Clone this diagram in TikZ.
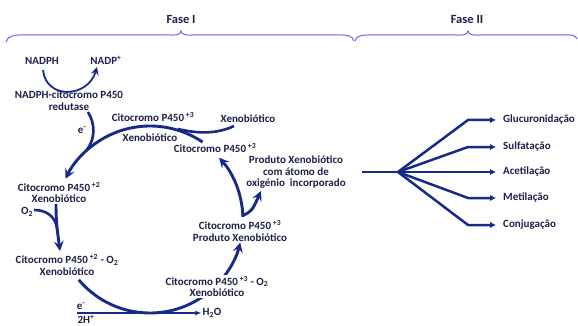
\documentclass[tikz,border=0pt]{standalone}
\usepackage{fontspec}
\setmainfont{Carlito}
\usetikzlibrary{arrows.meta,calc}
\definecolor{ink}{RGB}{28,32,72}
\definecolor{flow}{RGB}{22,42,135}
\definecolor{bracecol}{RGB}{100,100,245}
\begin{document}
\begin{tikzpicture}[x=1pt,y=1pt,
  lbl/.style={text=ink, font=\fontsize{11}{11.5}\selectfont\bfseries, align=center, inner sep=1pt},
  phase/.style={text=ink, font=\fontsize{12.5}{13}\selectfont\bfseries, inner sep=1pt},
  bigarrow/.style={draw=flow, line width=2.9pt, -{Stealth[length=10pt,width=10pt,inset=4pt]}},
  bigline/.style={draw=flow, line width=2.6pt},
  thinarrow/.style={draw=flow, line width=1.1pt, -{Latex[length=6pt,width=5pt]}},
  medarrow/.style={draw=flow, line width=1.8pt, -{Stealth[length=8pt,width=8pt,inset=3pt]}},
  fanarrow/.style={draw=flow, line width=2.5pt, -{Latex[length=6pt,width=6.5pt]}, shorten >=6pt},
  bracepath/.style={draw=bracecol, line width=1pt}
]
\useasboundingbox (0,0) rectangle (578,-326);

% phases
\node[phase] (faseI) at (181,-19) {Fase I};
\node[phase] (faseII) at (467,-19) {Fase II};
\draw[bracepath] (6,-42) to[out=75,in=180] (20,-35) -- (170,-35) to[out=0,in=260] (181,-31)
  to[out=280,in=180] (192,-35) -- (342,-35) to[out=0,in=105] (354,-41);
\draw[bracepath] (355,-41) to[out=75,in=180] (367,-35) -- (456,-35) to[out=0,in=260] (468,-31)
  to[out=280,in=180] (480,-35) -- (565,-35) to[out=0,in=110] (577,-39);

% cycle centre
\coordinate (k) at (150,-220);

% NADPH
\node[lbl] (nadph) at (42,-61) {NADPH};
\node[lbl] (nadp) at (106,-60) {NADP\textsuperscript{+}};
\coordinate (n1) at (43,-70);
\coordinate (n2) at (97,-67);
\draw[medarrow] (n1) .. controls (46,-100) and (88,-98) .. (n2);
\node[lbl] (red) at (69,-100.5) {NADPH-citocromo P450\\redutase};

% upper-left arc
\draw[bigarrow] ($(k)+(56:94)$) arc[start angle=56,end angle=154,radius=94];
% e- feed
\coordinate (e1s) at (88,-112);
\coordinate (e1e) at (86,-151);
\draw[bigline] (e1s) .. controls (96,-125) and (95,-140) .. (e1e);
\node[lbl] (e1) at (82,-130) {e\textsuperscript{-}};
% xenobiotic feed
\coordinate (xs) at (234,-126);
\coordinate (xe) at (178,-129);
\draw[bigline] (xs) .. controls (215,-135) and (195,-133) .. (xe);

\node[lbl] (c3a) at (153,-117) {Citocromo P450\,\textsuperscript{+3}};
\node[lbl] (xa) at (150,-138) {Xenobiótico};
\node[lbl] (xb) at (248,-118.5) {Xenobiótico};
\node[lbl] (c3b) at (215,-148) {Citocromo P450\,\textsuperscript{+3}};

% left side
\node[lbl] (c2) at (59,-192.5) {Citocromo P450\,\textsuperscript{+2}\\Xenobiótico};
\node[lbl] (o2) at (27,-212) {O\textsubscript{2}};
\coordinate (d1) at (56,-204);
\coordinate (d2) at (60,-251);
\draw[bigarrow] (d1) .. controls (56,-225) and (58,-235) .. (d2);
\coordinate (o2e) at (57,-228);
\draw[bigline] (34,-210) .. controls (46,-210) and (55,-216) .. (o2e);
\node[lbl] (c2o) at (67,-265) {Citocromo P450\,\textsuperscript{+2} - O\textsubscript{2}\\Xenobiótico};

% bottom arc
\draw[bigarrow] ($(k)+(220:93)$) arc[start angle=220,end angle=346,radius=93];
\node[lbl, fill=white] (c3o) at (217,-286.5) {Citocromo P450\,\textsuperscript{+3} - O\textsubscript{2}\\Xenobiótico};

% e- / 2H+ line
\node[lbl] (e2) at (81,-306) {e\textsuperscript{-}};
\node[lbl] (h) at (86,-319.5) {2H\textsuperscript{+}};
\node[lbl] (h2o) at (212,-313) {H\textsubscript{2}O};
\coordinate (ls) at (77,-313);
\draw[thinarrow] (ls) -- (h2o.west);

% right side of cycle
\node[lbl] (c3p) at (240,-231) {Citocromo P450\,\textsuperscript{+3}\\Produto Xenobiótico};
\draw[bigarrow] ($(k)+(2:93)$) arc[start angle=2,end angle=42,radius=93];
\coordinate (v) at (242,-216);
\coordinate (vp) at (261,-191);
\draw[bigarrow] (v) .. controls (252,-211) .. (vp);
\node[lbl] (prod) at (296,-172.5) {Produto Xenobiótico\\com átomo de\\oxigénio\ \ incorporado};

% Phase II fan
\coordinate (fin) at (362,-172);
\coordinate (fan) at (398,-172);
\draw[bigline] (fin) -- (fan);
\node[lbl, anchor=west] (glu) at (502,-120) {Glucuronidação};
\node[lbl, anchor=west] (sul) at (502,-147) {Sulfatação};
\node[lbl, anchor=west] (ace) at (502,-172) {Acetilação};
\node[lbl, anchor=west] (met) at (502,-198) {Metilação};
\node[lbl, anchor=west] (con) at (502,-225) {Conjugação};
\draw[fanarrow] (fan) -- (468,-120) -- (glu.west);
\draw[fanarrow] (fan) -- (468,-147) -- (sul.west);
\draw[fanarrow] (fan) -- (ace.west);
\draw[fanarrow] (fan) -- (468,-198) -- (met.west);
\draw[fanarrow] (fan) -- (468,-225) -- (con.west);
\end{tikzpicture}
\end{document}
